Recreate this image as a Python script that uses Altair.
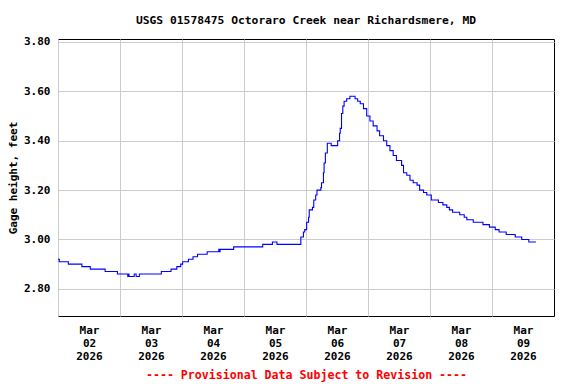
import altair as alt
import pandas as pd

# hours after 2026-03-02 00:00 and gage height (ft)
hours = [0, 0.5, 4.0, 9.25, 12.5, 18.25, 23.0, 27.0, 27.25, 27.5, 29.5, 30.25, 31.5,
         40.0, 43.75, 46.0, 47.5, 48.25, 50.5, 52.25, 54.0, 57.75, 62.25, 62.5, 62.75,
         68.0, 79.25, 83.0, 84.75, 94.0, 95.0, 95.5, 96.25, 97.0, 97.25, 98.5, 99.0,
         99.75, 100.25, 101.75, 102.0, 102.75, 103.0, 103.5, 104.25, 105.75, 108.25,
         109.0, 109.25, 109.75, 110.25, 110.75, 111.75, 113.0, 115.0, 116.0, 117.0,
         118.25, 119.5, 120.75, 122.0, 123.5, 124.5, 126.0, 127.25, 128.5, 129.75,
         131.0, 133.0, 133.75, 135.0, 136.25, 137.5, 139.0, 140.0, 141.5, 142.75,
         144.5, 147.25, 149.0, 150.5, 151.5, 152.75, 155.5, 157.25, 158.25, 160.75,
         164.5, 167.0, 169.25, 170.75, 173.5, 177.0, 179.5, 182.25, 185.0]
gage = [2.92, 2.91, 2.90, 2.89, 2.88, 2.87, 2.86, 2.85, 2.86, 2.85, 2.86, 2.85, 2.86,
        2.87, 2.88, 2.89, 2.90, 2.91, 2.92, 2.93, 2.94, 2.95, 2.96, 2.95, 2.96,
        2.97, 2.98, 2.99, 2.98, 3.01, 3.03, 3.04, 3.07, 3.09, 3.12, 3.13, 3.16,
        3.18, 3.20, 3.21, 3.23, 3.27, 3.31, 3.35, 3.39, 3.38, 3.40,
        3.43, 3.45, 3.51, 3.54, 3.56, 3.57, 3.58, 3.57, 3.56, 3.55,
        3.53, 3.50, 3.48, 3.46, 3.44, 3.42, 3.40, 3.38, 3.36, 3.34,
        3.32, 3.30, 3.27, 3.26, 3.24, 3.23, 3.22, 3.20, 3.19, 3.18,
        3.16, 3.15, 3.14, 3.13, 3.12, 3.11, 3.10, 3.09, 3.08, 3.07,
        3.06, 3.05, 3.04, 3.03, 3.02, 3.01, 3.00, 2.99, 2.99]

y_ticks = [2.8, 3.0, 3.2, 3.4, 3.6, 3.8]
day_ticks = [2, 3, 4, 5, 6, 7, 8, 9]

base = pd.Timestamp("2026-03-02 00:00")
df = pd.DataFrame({
    "time": [(base + pd.Timedelta(hours=h)).strftime("%Y-%m-%dT%H:%M:%S") for h in hours],
    "gage": gage,
})

FONT = "DejaVu Sans Mono"

chart = alt.Chart(df).mark_line(
    interpolate="step-after", color="#0000ff", strokeWidth=1.1
).encode(
    x=alt.X(
        "time:T",
        scale=alt.Scale(domain=[alt.DateTime(year=2026, month=3, date=2),
                                alt.DateTime(year=2026, month=3, date=10)]),
        axis=alt.Axis(
            values=[alt.DateTime(year=2026, month=3, date=d) for d in day_ticks],
            labelExpr="[timeFormat(datum.value, '%b'), timeFormat(datum.value, '%d'), timeFormat(datum.value, '%Y')]",
            labelOffset=31,
            labelPadding=8,
            labelLineHeight=13,
            labelOverlap=False,
            labelFlush=False,
            ticks=False,
            domain=False,
            gridColor="#cccccc",
            title="---- Provisional Data Subject to Revision ----",
            titleColor="#ff0000",
            titleFontSize=11.6,
            titlePadding=8,
        ),
    ),
    y=alt.Y(
        "gage:Q",
        scale=alt.Scale(domain=[2.69, 3.812], nice=False, zero=False),
        axis=alt.Axis(
            values=y_ticks,
            format=".2f",
            ticks=False,
            domain=False,
            labelPadding=8,
            gridColor="#cccccc",
            title="Gage height, feet",
            titlePadding=5,
        ),
    ),
).properties(
    width=496,
    height=277,
    padding={"left": 50, "top": 31, "right": 10, "bottom": 67},
    autosize=alt.AutoSizeParams(type="none"),
    title=alt.TitleParams(
        "USGS 01578475 Octoraro Creek near Richardsmere, MD",
        anchor="middle",
        font=FONT,
        fontSize=11.3,
        fontWeight="bold",
        color="black",
        offset=14,
        dy=15,
        baseline="bottom",
    ),
).configure_axis(
    labelFont=FONT,
    labelFontSize=11,
    labelFontWeight="bold",
    labelColor="black",
    titleFont=FONT,
    titleFontSize=11,
    titleFontWeight="bold",
).configure_axisY(
    titleColor="black",
).configure_view(
    stroke="black",
    strokeWidth=1,
)

chart.save("out.html", embed_options={"renderer": "svg", "actions": False})
